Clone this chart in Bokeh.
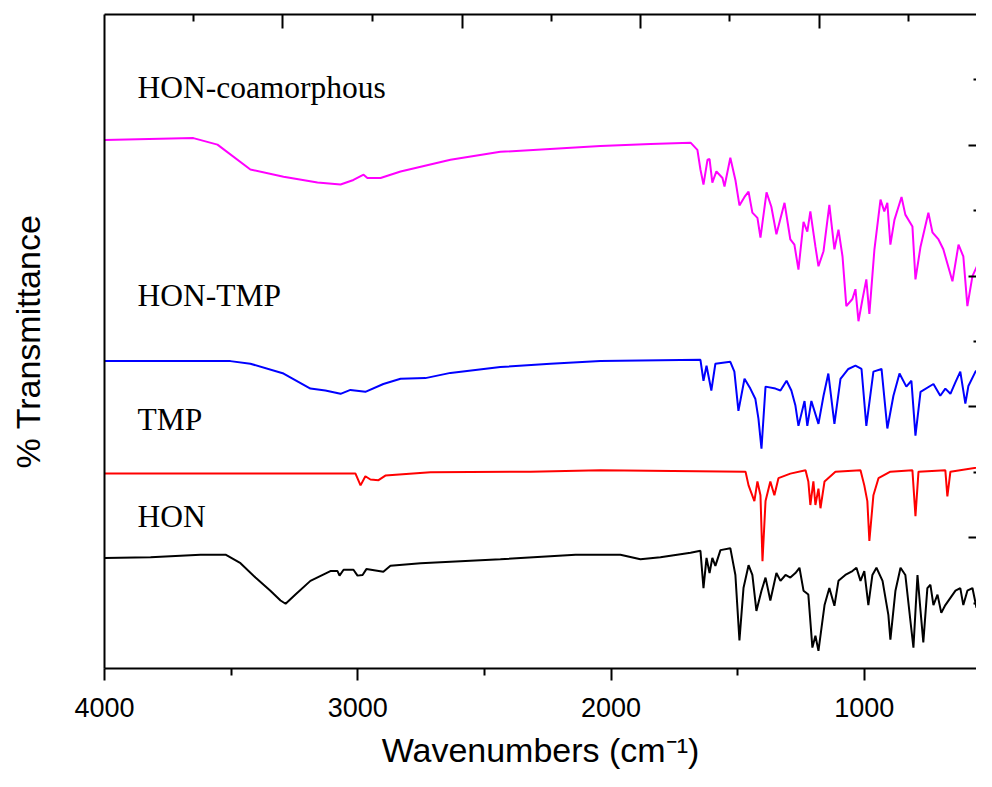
from bokeh.plotting import figure
from bokeh.models import Range1d, LinearAxis, FixedTicker, Label
from bokeh.embed import file_html
from bokeh.resources import INLINE

# ---------------- data ----------------
# x: wavenumber (cm-1), y: offset % transmittance (arbitrary units, stacked)
coam_wn = [4000, 3649, 3554, 3424, 3293, 3159, 3068, 3017, 2977, 2962, 2910, 2831, 2634, 2437, 2042, 1844,
           1686, 1659, 1647, 1635, 1619, 1611, 1600, 1584, 1560, 1552, 1529, 1509, 1493, 1473, 1457, 1442,
           1422, 1410, 1386, 1367, 1347, 1315, 1292, 1276, 1260, 1240, 1225, 1213, 1193, 1181, 1161, 1138,
           1118, 1102, 1086, 1071, 1047, 1035, 1023, 1007, 992, 980, 960, 936, 921, 909, 897, 881, 853, 838,
           810, 798, 778, 747, 731, 707, 688, 652, 628, 609, 593, 573, 542, 514, 494]
coam_t = [80.8, 81.1, 80.1, 76.3, 75.2, 74.3, 74.0, 74.7, 75.5, 75.0, 75.0, 76.0, 77.8, 79.0, 79.9, 80.2,
          80.4, 79.3, 76.3, 74.0, 77.8, 77.9, 74.3, 76.0, 75.0, 73.7, 78.1, 74.7, 70.8, 72.1, 72.9, 69.7,
          68.9, 65.9, 72.8, 70.6, 66.4, 71.2, 65.6, 64.8, 61.0, 68.3, 66.8, 69.9, 64.5, 61.5, 63.8, 70.9,
          64.1, 67.1, 63.0, 55.4, 56.5, 58.0, 53.1, 56.5, 59.5, 54.2, 64.1, 71.7, 69.9, 71.2, 64.8, 68.6, 72.1, 69.4,
          67.6, 59.5, 64.5, 69.7, 66.7, 65.6, 64.1, 59.2, 64.8, 63.0, 55.4, 60.0, 62.6, 64.1, 61.5]

tmpco_wn = [4000, 3503, 3424, 3293, 3187, 3128, 3068, 3029, 2970, 2899, 2831, 2733, 2634, 2437, 2239, 2042,
            1647, 1635, 1623, 1604, 1588, 1529, 1513, 1497, 1473, 1450, 1430, 1418, 1406, 1390, 1351, 1331,
            1307, 1288, 1272, 1260, 1236, 1225, 1209, 1181, 1161, 1142, 1118, 1094, 1063, 1035, 1011, 992,
            964, 932, 909, 885, 861, 834, 814, 798, 778, 727, 700, 680, 660, 640, 621, 601, 589, 561, 522, 494]
tmpco_t = [47.0, 47.0, 46.6, 45.1, 42.8, 42.5, 42.0, 42.6, 42.3, 43.5, 44.3, 44.4, 45.2, 46.1, 46.6, 47.0,
           47.2, 44.0, 46.3, 42.5, 46.6, 46.9, 45.4, 39.4, 44.3, 42.8, 41.2, 38.2, 33.6, 43.1, 42.8, 42.5,
           44.0, 42.5, 40.2, 37.1, 40.9, 37.1, 40.9, 37.4, 41.7, 45.1, 37.4, 44.3, 45.8, 46.3, 45.8, 37.1,
           45.4, 45.8, 36.7, 41.7, 45.1, 43.1, 44.0, 35.6, 42.3, 43.5, 41.7, 42.8, 42.0, 43.8, 45.4, 40.5, 43.2, 45.4, 46.6, 45.8]

tmp_wn = [4000, 3009, 2989, 2970, 2950, 2918, 2891, 2713, 2318, 2042, 1469, 1457, 1434, 1422, 1410, 1402,
          1390, 1371, 1355, 1339, 1292, 1232, 1221, 1213, 1201, 1193, 1181, 1173, 1157, 1114, 1015, 1000,
          988, 980, 964, 944, 897, 810, 798, 786, 680, 672, 660, 494]
tmp_t = [29.8, 29.8, 28.0, 29.4, 28.9, 28.8, 29.5, 30.0, 30.1, 30.3, 30.1, 28.0, 25.6, 28.6, 26.5, 16.4,
         25.6, 28.6, 26.5, 29.1, 29.8, 30.3, 28.6, 25.0, 28.6, 25.0, 27.5, 24.5, 28.6, 30.1, 30.3, 28.0,
         25.6, 19.5, 26.5, 29.1, 30.1, 30.3, 23.3, 30.1, 30.3, 26.3, 30.1, 31.1]

hon_wn = [4000, 3818, 3621, 3522, 3463, 3404, 3345, 3305, 3285, 3246, 3187, 3108, 3080, 3072, 3056, 3017,
          3001, 2981, 2966, 2899, 2871, 2752, 2437, 2140, 1963, 1884, 1805, 1686, 1647, 1635, 1623, 1611,
          1600, 1588, 1568, 1529, 1509, 1493, 1477, 1457, 1442, 1426, 1406, 1390, 1371, 1347, 1331, 1311,
          1292, 1272, 1256, 1240, 1221, 1205, 1193, 1181, 1169, 1157, 1138, 1118, 1102, 1075, 1047, 1031,
          1015, 1000, 984, 968, 952, 928, 905, 897, 877, 857, 838, 818, 806, 790, 778, 767, 751, 739, 727,
          711, 696, 680, 660, 640, 621, 609, 593, 573, 557, 542, 522, 494]
hon_t = [16.9, 17.0, 17.4, 17.4, 16.1, 13.9, 11.9, 10.4, 9.9, 11.3, 13.4, 14.9, 14.9, 14.2, 15.1, 15.1,
         14.2, 14.3, 15.2, 14.8, 15.7, 16.1, 16.7, 17.4, 17.4, 16.7, 17.0, 17.7, 18.0, 12.3, 16.9, 14.6,
         16.9, 15.7, 18.1, 18.4, 14.3, 4.3, 12.3, 15.8, 14.3, 8.8, 11.9, 13.9, 10.4, 14.6, 13.4, 14.3,
         13.9, 14.6, 15.4, 11.9, 11.3, 3.2, 5.0, 2.7, 6.2, 9.7, 12.3, 9.6, 13.4, 14.3, 14.9, 15.4,
         13.4, 14.9, 9.7, 14.3, 15.4, 13.4, 8.2, 4.4, 11.9, 15.4, 14.3, 7.3, 3.2, 14.3, 8.8, 4.0, 12.3, 12.8, 9.7,
         11.3, 8.5, 9.7, 10.8, 11.9, 12.3, 9.7, 11.9, 12.3, 9.3, 10.4, 9.7, 10.5]

series_names = ["HON-coamorphous", "HON-TMP", "TMP", "HON"]
series_wn = [coam_wn, tmpco_wn, tmp_wn, hon_wn]
series_t = [coam_t, tmpco_t, tmp_t, hon_t]
series_colors = ["#FF00FF", "#0000FF", "#FF0000", "#000000"]
label_y = [88.8, 57.0, 38.0, 23.2]

bottom_major = [4000, 3000, 2000, 1000]
bottom_minor = [3500, 2500, 1500, 500]
top_major = [3297, 2587, 1884, 1177]
top_minor = [3649, 2942, 2235, 1532, 826]
right_major = [20, 40, 60, 80]
right_minor = [10, 30, 50, 70, 90]

# ---------------- figure ----------------
p = figure(width=976, height=771, output_backend="svg", toolbar_location=None,
           x_range=Range1d(4000, 557), y_range=Range1d(0, 100),
           x_axis_location=None, y_axis_location=None,
           min_border_left=104, min_border_top=14, min_border_right=0, min_border_bottom=100)
p.outline_line_color = None
p.xgrid.grid_line_color = None
p.ygrid.grid_line_color = None
p.background_fill_color = "white"
p.border_fill_color = "white"

SANS = "Liberation Sans"
SERIF = "Liberation Serif"

for wn, t, c in zip(series_wn, series_t, series_colors):
    p.line(wn, t, line_color=c, line_width=2)

for name, lyv in zip(series_names, label_y):
    p.add_layout(Label(x=3870, y=lyv, text=name, text_font=SERIF, text_font_size="31.5px",
                       text_color="black", text_baseline="alphabetic", text_align="left"))

# bottom axis
bx = LinearAxis(ticker=FixedTicker(ticks=bottom_major, minor_ticks=bottom_minor))
bx.axis_line_width = 2
bx.major_tick_line_width = 2
bx.minor_tick_line_width = 2
bx.major_tick_in = 0
bx.major_tick_out = 12
bx.minor_tick_in = 0
bx.minor_tick_out = 7
bx.major_label_text_font = SANS
bx.major_label_text_font_size = "27px"
bx.major_label_text_color = "black"
bx.major_label_standoff = 17
bx.axis_label = "Wavenumbers (cm\u207b\u00b9)"
bx.axis_label_text_font = SANS
bx.axis_label_text_font_size = "34px"
bx.axis_label_text_font_style = "normal"
bx.axis_label_text_color = "black"
bx.axis_label_standoff = 11
p.add_layout(bx, "below")

# left axis (line + title only)
ly_ax = LinearAxis(ticker=FixedTicker(ticks=[]))
ly_ax.axis_line_width = 2
ly_ax.major_tick_line_color = None
ly_ax.minor_tick_line_color = None
ly_ax.major_tick_in = 0
ly_ax.major_tick_out = 0
ly_ax.minor_tick_in = 0
ly_ax.minor_tick_out = 0
ly_ax.major_label_standoff = 0
ly_ax.axis_label = "% Transmittance"
ly_ax.axis_label_text_font = SANS
ly_ax.axis_label_text_font_size = "34px"
ly_ax.axis_label_text_font_style = "normal"
ly_ax.axis_label_text_color = "black"
ly_ax.axis_label_standoff = 58
p.add_layout(ly_ax, "left")

# top axis (inward ticks, no labels)
tx = LinearAxis(ticker=FixedTicker(ticks=top_major, minor_ticks=top_minor))
tx.axis_line_width = 2
tx.major_tick_line_width = 2
tx.minor_tick_line_width = 2
tx.major_tick_in = 14
tx.major_tick_out = 0
tx.minor_tick_in = 7
tx.minor_tick_out = 0
tx.major_label_text_font_size = "1px"
tx.major_label_text_color = None
tx.major_label_standoff = 0
p.add_layout(tx, "above")

# right axis (inward ticks, no line, no labels)
ry = LinearAxis(ticker=FixedTicker(ticks=right_major, minor_ticks=right_minor))
ry.axis_line_color = None
ry.major_tick_line_width = 2
ry.minor_tick_line_width = 2
ry.major_tick_in = 8
ry.major_tick_out = 0
ry.minor_tick_in = 3
ry.minor_tick_out = 0
ry.major_label_text_font_size = "1px"
ry.major_label_text_color = None
ry.major_label_standoff = 0
p.add_layout(ry, "right")

open("out.html", "w").write(file_html(p, INLINE))
